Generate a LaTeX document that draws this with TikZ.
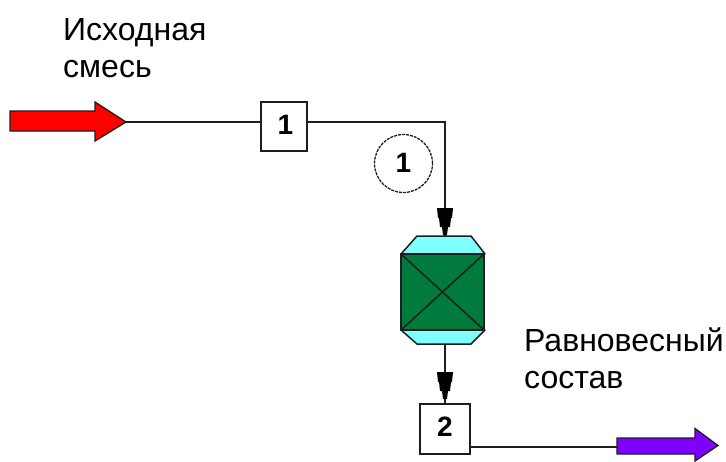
\documentclass[tikz,border=0pt]{standalone}
\usepackage{fontspec}
\setmainfont{Liberation Sans}
\definecolor{rgreen}{RGB}{0,122,61}
\definecolor{rcyan}{RGB}{128,255,255}
\definecolor{rpurple}{RGB}{128,0,255}
\definecolor{linegray}{RGB}{30,30,30}
\tikzset{
  line/.style={draw=linegray,line width=1.5pt},
  numbox/.style={draw=linegray,line width=1.5pt,fill=white,minimum width=46pt,minimum height=49pt,inner sep=0pt,font=\bfseries\fontsize{28}{28}\selectfont},
  label/.style={anchor=west,align=left,inner sep=0pt,font=\fontsize{32}{37}\selectfont},
  pipemark/.pic={\fill[black] (-8,-13)--(8,-13)--(7,-3)--(6,-3)--(5,6)--(3,6)--(2,14)--(-2,14)--(-3,6)--(-5,6)--(-6,-3)--(-7,-3)--cycle;}
}
\begin{document}
\begin{tikzpicture}[x=1pt,y=-1pt]
\useasboundingbox (0,0) rectangle (726,461);
\node[label] (t1) at (63,48) {Исходная\\смесь};
\node[label] (t2) at (524,358) {Равновесный\\состав};
\node[numbox] (b1) at (284,126.5) {\raisebox{3pt}{\hspace{3pt}1}};
\node[numbox,minimum width=50pt,minimum height=50pt] (b2) at (445,429) {\raisebox{4pt}{2}};
\node[draw=linegray,dashed,dash pattern=on 3pt off 1pt,line width=1.3pt,circle,minimum size=58pt,inner sep=0pt,font=\bfseries\fontsize{28}{28}\selectfont] (c1) at (403.5,163.5) {\raisebox{2pt}{1}};
% reactor
\coordinate (rt) at (445,236);
\coordinate (rb) at (445,344);
\coordinate (inR) at (126,122);
\coordinate (corner) at (445,122);
\coordinate (outP) at (617,447);
\draw[line] (inR) -- (b1.west|-inR);
\draw[line] (b1.east|-inR) -- (corner) -- (rt);
\draw[line] (rb) -- (b2.north);
\draw[line] (b2.east|-outP) -- (outP);
\pic at (445,221) {pipemark};
\pic at (445,385) {pipemark};
\draw[line,fill=rcyan,line join=round] (401,254)--(417,236)--(471,236)--(485,254)--cycle;
\draw[line,fill=rcyan,line join=round] (401,330)--(417,344)--(471,344)--(485,330)--cycle;
\draw[line,fill=rgreen] (401,254) rectangle (484,330);
\draw[line] (401,254)--(484,330) (484,254)--(401,330);
% big arrows
\draw[draw=linegray,line width=1.3pt,fill=red,line join=miter] (10,111)--(95,111)--(95,102)--(126,122)--(95,141)--(95,131)--(10,131)--cycle;
\draw[draw=linegray,line width=1.3pt,fill=rpurple,line join=miter] (617,438)--(695,438)--(695,428.5)--(718,445.5)--(695,461)--(695,454)--(617,454)--cycle;
\end{tikzpicture}
\end{document}
